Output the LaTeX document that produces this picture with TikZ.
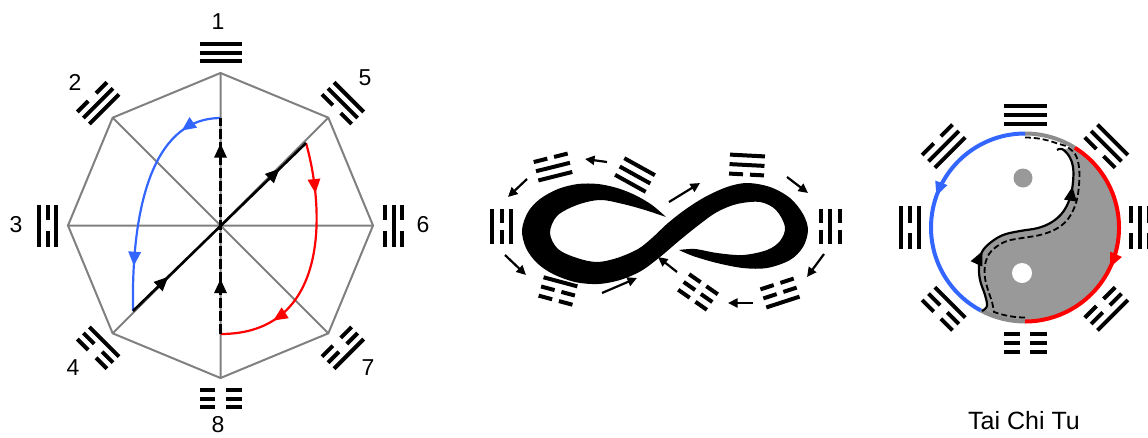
\documentclass[tikz,border=0pt]{standalone}
\usepackage{fontspec}
\setmainfont{Liberation Sans}
\usetikzlibrary{arrows.meta,decorations.markings,calc}
\definecolor{myblue}{RGB}{51,102,255}
\definecolor{myred}{RGB}{255,0,0}
\definecolor{octgray}{RGB}{128,128,128}
\definecolor{yygray}{RGB}{153,153,153}
\definecolor{arcgray}{RGB}{140,140,140}
\newcommand\tipshape{\fill (1.5pt,0pt) -- (-12.5pt,6.5pt) -- (-12.5pt,-6.5pt) -- cycle;}
\newcommand\mytrigline[2]{\ifnum#2=1 \draw[trig] (-\trL,#1) -- (\trL,#1);\else \draw[trig] (-\trL,#1) -- (-\trG,#1) (\trG,#1) -- (\trL,#1);\fi}
\newcommand\mytrig[5]{\begin{scope}[shift={(#1)},x=1pt,y=1pt,rotate=#2]\mytrigline{-\trS}{#3}\mytrigline{0}{#4}\mytrigline{\trS}{#5}\end{scope}}
\begin{document}
\begin{tikzpicture}[x=1pt,y=-1pt,
  trig/.style={line width=4pt},
  lab/.style={font=\fontsize{23}{23}\selectfont, inner sep=0pt},
  marr/.style 2 args={postaction={decorate}, decoration={markings, mark=at position #1 with {\tipshape}, mark=at position #2 with {\tipshape}}},
  marrone/.style={postaction={decorate}, decoration={markings, mark=at position #1 with {\tipshape}}},
  smarr/.style={line width=2.2pt, -{Triangle[length=9.5pt,width=9pt]}}]
\useasboundingbox (0,0) rectangle (1148,437);

% ---------------- octagon ----------------
\coordinate (O) at (220.5,225.5);
\foreach \a in {0,45,...,315} {\path (O) ++(\a:152.5pt) coordinate (v\a);}
\draw[octgray, line width=2pt] (v0)--(v45)--(v90)--(v135)--(v180)--(v225)--(v270)--(v315)--cycle;
\draw[octgray, line width=2pt] (v0)--(v180) (v45)--(v225) (v90)--(v270) (v135)--(v315);

\coordinate (dtop) at (220.5,118);
\coordinate (dbot) at (220.5,334);
\coordinate (dl) at (133,311);
\coordinate (dr) at (306,143);
\draw[myblue, line width=2.2pt, marr={0.17}{0.8}] (dtop) .. controls (158,118) and (131,195) .. (dl);
\draw[myred, line width=2.2pt, marr={0.2}{0.77}] (dr) .. controls (325,210) and (330,334) .. (dbot);
\draw[line width=2.6pt, marr={0.197}{0.84}] (dl) -- (dr);
\draw[line width=3.4pt, dash pattern=on 10pt off 3pt, marr={0.247}{0.874}] (dbot) -- (dtop);

\node[lab] (l1) at (218,22) {1};
\node[lab] (l2) at (75,82) {2};
\node[lab] (l3) at (16,225) {3};
\node[lab] (l4) at (73,368) {4};
\node[lab] (l5) at (365,78) {5};
\node[lab] (l6) at (423,225) {6};
\node[lab] (l7) at (368,368) {7};
\node[lab] (l8) at (218,424.5) {8};

\def\trL{21}\def\trG{5.5}\def\trS{8.5}
\mytrig{$(O)+(90:173pt)$}{0}{1}{1}{1}
\mytrig{$(O)+(135:173pt)$}{45}{1}{1}{0}
\mytrig{$(O)+(180:173pt)$}{90}{1}{0}{1}
\mytrig{$(O)+(225:173pt)$}{135}{1}{0}{0}
\mytrig{$(O)+(270:173pt)$}{180}{0}{0}{0}
\mytrig{$(O)+(315:173pt)$}{225}{0}{0}{1}
\mytrig{$(O)+(0:173pt)$}{270}{0}{1}{0}
\mytrig{$(O)+(45:173pt)$}{315}{0}{1}{1}

% ---------------- infinity ----------------
\fill[black] plot[smooth, tension=0.55] coordinates {(666,217) (652,205) (635,195) (617,188) (598,184) (578,184) (558,189) (540,199) (528,212) (522,230) (526,248) (537,263) (553,274) (575,282) (598,284) (620,280) (641,271) (660,257) (680,240) (700,224) (717,212) (737,204) (760,202) (776,210) (785,227) (780,241) (767,250) (743,255) (717,253) (695,249) (679,250)}
  -- plot[smooth, tension=0.55] coordinates {(679,250) (693,256) (717,263) (743,268) (767,268) (790,260) (803,247) (808,230) (803,214) (790,198) (770,187) (747,183) (727,187) (705,197) (686,209) (668,223) (652,238) (638,249) (617,258) (597,262) (577,258) (558,249) (550,233) (557,216) (577,205) (600,200) (623,204) (645,210) (666,217)} -- cycle;

\def\trL{17.5}\def\trG{3.5}\def\trS{9.5}
\mytrig{635,175}{-29}{1}{1}{1}
\mytrig{553,167}{14}{1}{1}{0}
\mytrig{501.5,226}{90}{1}{0}{1}
\mytrig{558,291}{165}{1}{0}{0}
\mytrig{698,292}{-35}{0}{0}{0}
\mytrig{780,293}{-162}{0}{0}{1}
\mytrig{830,226}{-90}{0}{1}{0}
\mytrig{747,165}{-3}{0}{1}{1}

\draw[smarr] (607,162) -- (585,159);
\draw[smarr] (527,179) -- (508,197);
\draw[smarr] (505,255) -- (526,275);
\draw[smarr] (602,293) -- (637,278);
\draw[smarr] (669,202) -- (700,183);
\draw[smarr] (787,177) -- (808,193);
\draw[smarr] (824,254) -- (807,277);
\draw[smarr] (753,303) -- (728,303);
\draw[smarr] (677,272) -- (658,257);

% ---------------- yin yang ----------------
\coordinate (Y) at (1025,227.5);
\fill[yygray] ($(Y)+(58:94pt)$) arc[start angle=58, end angle=-118, radius=94pt]
  -- plot[smooth, tension=0.6] coordinates {(982,311) (987,306) (985,295) (980,280) (979,265) (982,252) (990,243) (1003,235) (1020,231) (1038,228) (1052,222) (1063,212) (1070,198) (1073,182) (1073,167) (1069,156) (1062,149) (1057,150)} -- cycle;
\fill[yygray] (1023,178) circle[radius=9.5pt];
\fill[white] (1022,273) circle[radius=10pt];

\draw[arcgray, line width=4pt] ($(Y)+(58:94pt)$) arc[start angle=58, end angle=90, radius=94pt];
\draw[arcgray, line width=4pt] ($(Y)+(242:94pt)$) arc[start angle=242, end angle=270, radius=94pt];
\draw[myblue, line width=4pt, marrone=0.457] ($(Y)+(90:94pt)$) arc[start angle=90, end angle=242, radius=94pt];
\draw[myred, line width=4pt, marrone=0.554] ($(Y)+(58:94pt)$) arc[start angle=58, end angle=-90, radius=94pt];

\draw[line width=1.8pt, dash pattern=on 6pt off 3pt] ($(Y)+(-90:90pt)$) arc[start angle=-90, end angle=-110, radius=90pt]
  -- plot[smooth, tension=0.6] coordinates {(994,312) (992,302) (988,290) (985,278) (985,265) (989,254) (996,247) (1007,241) (1022,238) (1040,235) (1056,229) (1068,219) (1076,203) (1079,185) (1079,167) (1075,154) (1066,146)}
  -- ($(Y)+(70:90pt)$) arc[start angle=70, end angle=90, radius=90pt];
\draw[line width=2.2pt, marr={0.27}{0.79}] plot[smooth, tension=0.6] coordinates {(982,311) (987,306) (985,295) (980,280) (979,265) (982,252) (990,243) (1003,235) (1020,231) (1038,228) (1052,222) (1063,212) (1070,198) (1073,182) (1073,167) (1069,156) (1062,149) (1057,150)};

\def\trL{21.5}\def\trG{5}\def\trS{9}
\mytrig{$(Y)+(90:113pt)$}{0}{1}{1}{1}
\mytrig{$(Y)+(135:115pt)$}{45}{1}{1}{0}
\mytrig{$(Y)+(180:115pt)$}{90}{1}{0}{1}
\mytrig{$(Y)+(225:115pt)$}{135}{1}{0}{0}
\mytrig{$(Y)+(270:115pt)$}{180}{0}{0}{0}
\mytrig{$(Y)+(315:115pt)$}{225}{0}{0}{1}
\mytrig{$(Y)+(0:115pt)$}{270}{0}{1}{0}
\mytrig{$(Y)+(45:115pt)$}{315}{0}{1}{1}

\node[font=\fontsize{25}{25}\selectfont, inner sep=0pt] (title) at (1024,421) {Tai Chi Tu};
\end{tikzpicture}
\end{document}
